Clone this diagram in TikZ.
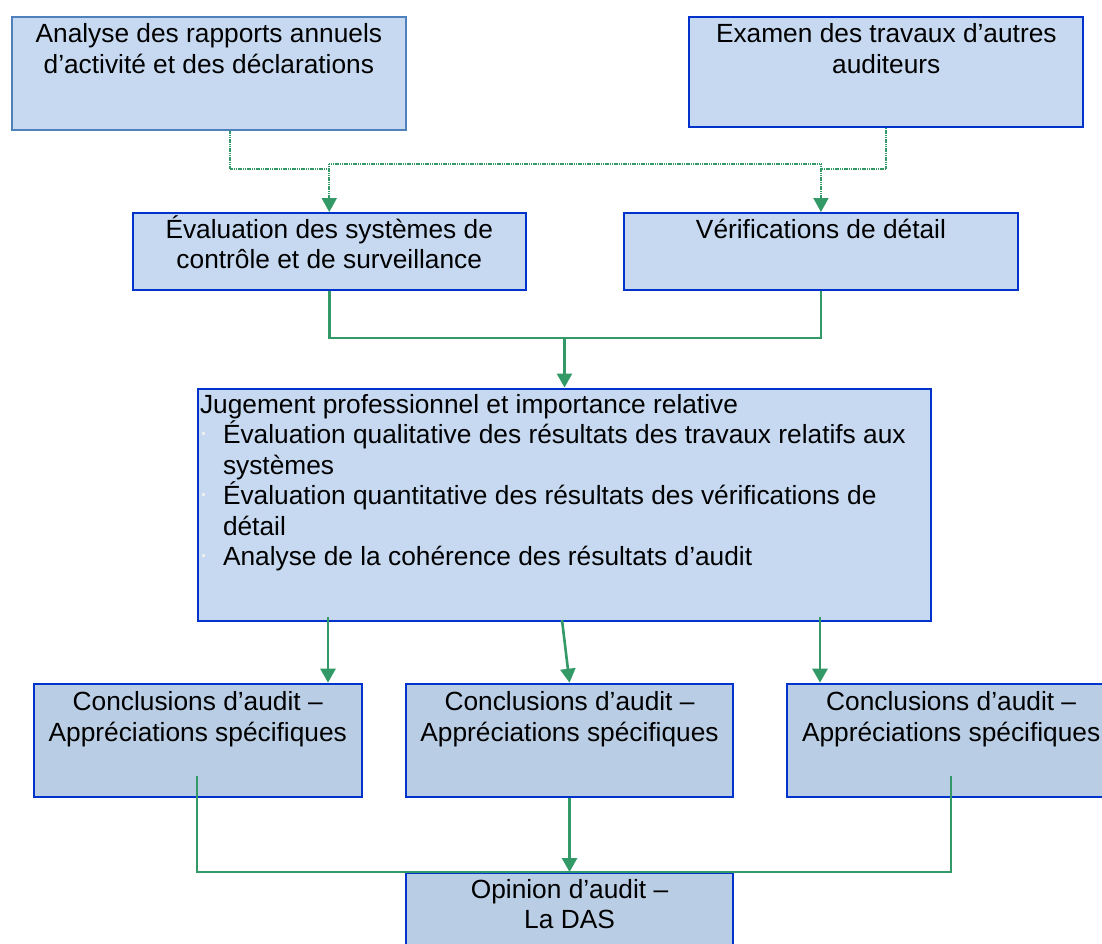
\documentclass[tikz,border=0pt]{standalone}
\usepackage{fontspec}
\setmainfont{Liberation Sans}
\usetikzlibrary{arrows.meta}

\definecolor{boxfill}{HTML}{C6D9F1}
\definecolor{boxfilldark}{HTML}{B9CDE5}
\definecolor{edgeblue}{HTML}{0033CC}
\definecolor{edgesoft}{HTML}{4F81BD}
\definecolor{linkgreen}{HTML}{339966}
\definecolor{dotgray}{HTML}{EEEEEE}

% box body: width, height, text set from the top with a given first baseline
\newcommand\boxtext[4][26pt]{\parbox[t][#3][t]{#2}{\centering\rule{0pt}{#1}#4\par}}
% faint bullet mark used in the list box
\newcommand\bulmark{\hspace*{4pt}\textcolor{dotgray}{\rule[9pt]{2.5pt}{2.5pt}}\hspace*{18.5pt}}

\tikzset{
  box/.style={draw=edgeblue, line width=2pt, fill=boxfill, inner sep=0pt,
    anchor=north west, font=\fontsize{26.3}{30.5}\selectfont},
  darkbox/.style={box, fill=boxfilldark},
  dotlink/.style={draw=linkgreen, line width=2pt, dash pattern=on 1.2pt off 0.6pt},
  link/.style={draw=linkgreen, line width=2.6pt},
  thinlink/.style={draw=linkgreen, line width=2pt},
  tipped/.style={-{Triangle[width=15pt,length=14pt]}}
}

\begin{document}
\begin{tikzpicture}[x=1pt, y=-1pt]
\useasboundingbox (0,0) rectangle (1102,943);
\fill[white] (0,0) rectangle (1102,943);

% sources
\node[box, draw=edgesoft] (A) at (10.7,15.7)
  {\boxtext{394.3pt}{113.6pt}{Analyse des rapports annuels\\ d’activité et des déclarations}};
\node[box] (B) at (688.3,15.7)
  {\boxtext{394pt}{110pt}{Examen des travaux d’autres\\ auditeurs}};

% audit work
\node[box] (C) at (131.5,212)
  {\boxtext[25pt]{393.5pt}{77pt}{Évaluation des systèmes de\\ contrôle et de surveillance}};
\node[box] (D) at (622.7,212)
  {\boxtext[25pt]{394.5pt}{77pt}{Vérifications de détail}};

% judgement
\node[box] (E) at (197,387.5)
  {\parbox[t][232.5pt][t]{733pt}{\raggedright\rule{0pt}{24.5pt}\hspace*{2pt}Jugement professionnel et importance relative\\
   \bulmark Évaluation qualitative des résultats des travaux relatifs aux\\
   \hspace*{25pt}systèmes\\
   \bulmark Évaluation quantitative des résultats des vérifications de\\
   \hspace*{25pt}détail\\
   \bulmark Analyse de la cohérence des résultats d’audit\par}};

% conclusions
\node[darkbox] (F) at (33,682.7)
  {\boxtext[27pt]{327.5pt}{113.3pt}{Conclusions d’audit –\\ Appréciations spécifiques}};
\node[darkbox] (G) at (404.8,682.7)
  {\boxtext[27pt]{327.5pt}{113.3pt}{Conclusions d’audit –\\ Appréciations spécifiques}};
\node[darkbox] (H) at (786.4,682.7)
  {\boxtext[27pt]{327.5pt}{113.3pt}{Conclusions d’audit –\\ Appréciations spécifiques}};

% opinion
\node[darkbox] (I) at (404.8,872)
  {\boxtext[25pt]{327.5pt}{120pt}{Opinion d’audit –\\ La DAS}};

% dotted feeds from the sources
\draw[dotlink] ([xshift=21.5pt]A.south) |- (C.north |- 0,169);
\draw[dotlink] (B.south) |- (D.north |- 0,169);
\draw[dotlink] (C.north |- 0,164) -- (D.north |- 0,164);
\draw[dotlink, tipped] (C.north |- 0,164) -- (C.north);
\draw[dotlink, tipped] (D.north |- 0,164) -- (D.north);

% work results into the judgement
\draw[link] (C.south) |- (E.north |- 0,338) -| (D.south);
\draw[link, tipped] (E.north |- 0,338) -- (E.north);

% judgement to conclusions
\coordinate (eF) at (328,616.5);
\coordinate (eG) at (562,620);
\coordinate (eH) at (820,616.5);
\draw[link, tipped] (eF) -- (F.north -| eF);
\draw[link, tipped] (eG) -- (G.north);
\draw[link, tipped] (eH) -- (H.north -| eH);

% conclusions to opinion
\coordinate (fS) at (196.8,776);
\coordinate (hS) at (951,776);
\draw[thinlink] (fS) |- (I.north) -| (hS);
\draw[link, tipped] (G.south) -- (I.north);
\end{tikzpicture}
\end{document}
